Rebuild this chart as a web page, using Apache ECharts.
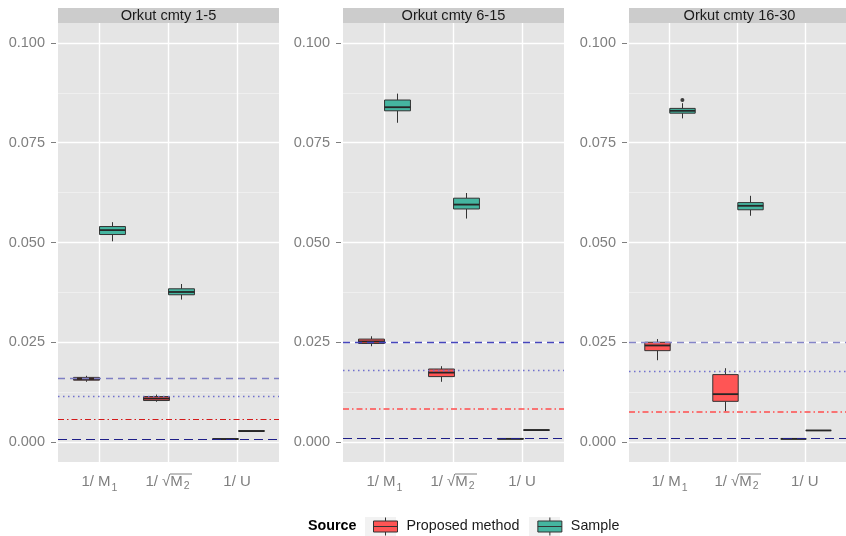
<!DOCTYPE html>
<html><head><meta charset="utf-8">
<script src="https://cdn.jsdelivr.net/npm/echarts@6/dist/echarts.min.js"></script>
<style>html,body{margin:0;padding:0;background:#fff}#c{width:846px;height:536px}</style>
</head><body><div id="c"></div>
<script>
// ---------- data ----------
const panels = ['Orkut cmty 1-5', 'Orkut cmty 6-15', 'Orkut cmty 16-30'];
const categories = ['1/ M|1', '1/ \u221A|M|2', '1/ U|'];
const sources = ['Proposed method', 'Sample'];
// [min, q1, median, q3, max] per category
const proposedP1 = [[0.0151,0.0155,0.0158,0.0162,0.0166],[0.0101,0.0104,0.0109,0.0114,0.0119],[0.00072,0.00075,0.00075,0.00078,0.0008]];
const sampleP1   = [[0.0503,0.0520,0.0531,0.0540,0.0551],[0.0357,0.0369,0.0376,0.0384,0.0396],[0.0027,0.00275,0.00275,0.0028,0.0028]];
const proposedP2 = [[0.0240,0.0247,0.0252,0.0258,0.0265],[0.0151,0.0164,0.0174,0.0183,0.0190],[0.0008,0.0008,0.0008,0.00085,0.00085]];
const sampleP2   = [[0.0800,0.0830,0.0839,0.0857,0.0873],[0.0560,0.0584,0.0595,0.0611,0.0624],[0.0030,0.0030,0.0030,0.0030,0.0030]];
const proposedP3 = [[0.0205,0.0229,0.0242,0.0250,0.0258],[0.0077,0.0102,0.0120,0.0169,0.0185],[0.0008,0.0008,0.0008,0.0008,0.0008]];
const sampleP3   = [[0.0811,0.0824,0.0830,0.0836,0.0849],[0.0567,0.0582,0.0592,0.0600,0.0617],[0.0029,0.0029,0.0029,0.0029,0.0029]];
// outliers: [categoryIndex, value]
const sampleOutliersP1 = [];
const sampleOutliersP2 = [];
const sampleOutliersP3 = [[0, 0.0857]];
// horizontal reference lines per panel
const refLineA = [0.0159, 0.0250, 0.0250];   // dashed blue
const refLineB = [0.01135, 0.0179, 0.0177];  // dotted
const refLineC = [0.00576, 0.00834, 0.00767];// dash-dot red
const refLineD = [0.00075, 0.00083, 0.00083];// dashed navy
const yTicks = [0, 0.025, 0.05, 0.075, 0.1];
const yMinorTicks = [0.0125, 0.0375, 0.0625, 0.0875];
const xTicks = [1, 2, 3];

// ---------- layout / style ----------
const proposed = [proposedP1, proposedP2, proposedP3];
const sample = [sampleP1, sampleP2, sampleP3];
const outliers = [sampleOutliersP1, sampleOutliersP2, sampleOutliersP3];
const FONT = "'Liberation Sans', Arial, Helvetica, sans-serif";
const gridLefts = [58, 343, 629];
const gridTop = 23, gridHeight = 439, gridWidth = 221;
const fills = ['#ff5555', '#45b5a0'];
const boxW = 0.375, dodge = [-0.1875, 0.1875];
const refColA = ['#7f7fc4', '#4646bd', '#8585c8'];
const refColC = ['#d41a1a', '#ff4d4d', '#ff4d4d'];
const refWC = [1.2, 1.6, 1.6];

// overline image for the square-root label (stretched over the rich fragment box)
const ovCanvas = document.createElement('canvas');
ovCanvas.width = 4; ovCanvas.height = 40;
(function () { const g = ovCanvas.getContext('2d'); g.fillStyle = '#7f7f7f'; g.fillRect(0, 3, 4, 2); })();

function xLabel(v) {
  const c = categories[Math.round(v) - 1];
  if (!c) return '';
  const p = c.split('|');
  if (p.length === 3) return '{a|' + p[0] + '}{ov|' + p[1] + '}{sov|' + p[2] + '}';
  return '{a|' + p[0] + '}{s|' + p[1] + '}';
}

function makeRender(off) {
  return function (params, api) {
    const x = api.value(0) + off;
    const w = api.size([boxW, 0])[0];
    const pMin = api.coord([x, api.value(1)]);
    const pQ1 = api.coord([x, api.value(2)]);
    const pMed = api.coord([x, api.value(3)]);
    const pQ3 = api.coord([x, api.value(4)]);
    const pMax = api.coord([x, api.value(5)]);
    const cx = Math.round(pMed[0]) + 0.5;
    const stroke = '#333333';
    return { type: 'group', children: [
      { type: 'line', shape: { x1: cx, y1: pQ3[1], x2: cx, y2: pMax[1] }, style: { stroke, lineWidth: 1 } },
      { type: 'line', shape: { x1: cx, y1: pQ1[1], x2: cx, y2: pMin[1] }, style: { stroke, lineWidth: 1 } },
      { type: 'rect', shape: { x: cx - w / 2, y: pQ3[1], width: w, height: pQ1[1] - pQ3[1] }, style: { fill: api.visual('color'), stroke, lineWidth: 1 } },
      { type: 'line', shape: { x1: cx - w / 2, y1: pMed[1], x2: cx + w / 2, y2: pMed[1] }, style: { stroke: '#262626', lineWidth: 1.8 } }
    ] };
  };
}

const richX = {
  a: { color: '#7f7f7f', fontSize: 15, fontFamily: FONT, height: 20, verticalAlign: 'bottom' },
  s: { color: '#7f7f7f', fontSize: 10.5, fontFamily: FONT, verticalAlign: 'bottom', padding: [0, 0, -2, 1] },
  ov: { color: '#7f7f7f', fontSize: 15, fontFamily: FONT, height: 20, verticalAlign: 'bottom', backgroundColor: { image: ovCanvas } },
  sov: { color: '#7f7f7f', fontSize: 10.5, fontFamily: FONT, height: 12, verticalAlign: 'bottom', padding: [8, 2, 0, 1], backgroundColor: { image: ovCanvas } }
};

const grids = [], xAxes = [], yAxes = [], series = [], graphics = [];
for (let i = 0; i < 3; i++) {
  grids.push({ left: gridLefts[i], top: gridTop, width: gridWidth, height: gridHeight, show: true, backgroundColor: '#e5e5e5', borderWidth: 0 });
  xAxes.push({ type: 'value', gridIndex: i, min: 0.4, max: 3.6,
    axisLine: { show: false }, splitLine: { show: false },
    axisTick: { show: true, customValues: xTicks, length: 5, lineStyle: { color: '#7f7f7f' } },
    axisLabel: { customValues: xTicks, formatter: xLabel, rich: richX, color: '#7f7f7f', fontSize: 15, fontFamily: FONT, margin: 10 } });
  yAxes.push({ type: 'value', gridIndex: i, min: -0.005, max: 0.105, offset: 2,
    axisLine: { show: false }, splitLine: { show: false },
    axisTick: { show: true, customValues: yTicks, length: 5, lineStyle: { color: '#7f7f7f' } },
    axisLabel: { customValues: yTicks, formatter: v => v.toFixed(3), color: '#7f7f7f', fontSize: 14.5, fontFamily: FONT, margin: 11 } });
  // background grid lines
  series.push({ type: 'line', xAxisIndex: i, yAxisIndex: i, data: [], silent: true,
    markLine: { silent: true, symbol: 'none', z: 1, precision: 6, animation: false, label: { show: false }, emphasis: { disabled: true },
      data: [
        ...yTicks.map(v => ({ yAxis: v, lineStyle: { color: '#ffffff', width: 1.4, type: 'solid' } })),
        ...yMinorTicks.map(v => ({ yAxis: v, lineStyle: { color: '#f4f4f4', width: 0.7, type: 'solid' } })),
        ...xTicks.map(v => ({ xAxis: v, lineStyle: { color: '#ffffff', width: 1.4, type: 'solid' } }))
      ] } });
  // boxplots
  [proposed[i], sample[i]].forEach((stats, s) => {
    series.push({ type: 'custom', name: sources[s], xAxisIndex: i, yAxisIndex: i, z: 3,
      itemStyle: { color: fills[s] }, renderItem: makeRender(dodge[s]),
      data: stats.map((st, k) => [xTicks[k], ...st]) });
  });
  if (outliers[i].length) {
    series.push({ type: 'scatter', xAxisIndex: i, yAxisIndex: i, z: 4, symbolSize: 4,
      itemStyle: { color: '#111' }, data: outliers[i].map(o => [xTicks[o[0]] + dodge[1], o[1]]) });
  }
  // reference lines
  series.push({ type: 'line', xAxisIndex: i, yAxisIndex: i, data: [], silent: true,
    markLine: { silent: true, symbol: 'none', z: 10, precision: 6, animation: false, label: { show: false }, emphasis: { disabled: true },
      data: [
        { yAxis: refLineA[i], lineStyle: { color: refColA[i], width: 1.3, type: [7, 5] } },
        { yAxis: refLineB[i], lineStyle: { color: '#7070cc', width: 1.4, type: [1.5, 3.5] } },
        { yAxis: refLineC[i], lineStyle: { color: refColC[i], width: refWC[i], type: [6, 3, 1.5, 3] } },
        { yAxis: refLineD[i], lineStyle: { color: '#1e1e88', width: 1.2, type: [9, 5] } }
      ] } });
  // strip
  graphics.push({ type: 'rect', left: gridLefts[i], top: 8, shape: { width: gridWidth, height: 15 }, style: { fill: '#cccccc' } });
  graphics.push({ type: 'text', x: gridLefts[i] + gridWidth / 2, y: 15.5,
    style: { text: panels[i], fill: '#1a1a1a', font: '14.6px ' + FONT, textAlign: 'center', textVerticalAlign: 'middle' } });
}
// legend decorations
graphics.push({ type: 'rect', left: 365, top: 517, shape: { width: 31, height: 19 }, style: { fill: '#f2f2f2' }, z: 0 });
graphics.push({ type: 'rect', left: 529, top: 517, shape: { width: 31, height: 19 }, style: { fill: '#f2f2f2' }, z: 0 });
graphics.push({ type: 'text', x: 308, y: 526, style: { text: 'Source', fill: '#000', font: 'bold 14.3px ' + FONT, textVerticalAlign: 'middle' } });

const chart = echarts.init(document.getElementById('c'));
chart.setOption({
  animation: false,
  backgroundColor: '#ffffff',
  grid: grids, xAxis: xAxes, yAxis: yAxes, series: series, graphic: graphics,
  legend: { data: sources, left: 368, top: 512, padding: 5, itemWidth: 24, itemHeight: 18, itemGap: 18, selectedMode: false,
    icon: 'path://M0,3.5H24V14.5H0Z M0,9H24 M12,0V3.5 M12,14.5V18',
    itemStyle: { borderColor: '#333', borderWidth: 1 },
    textStyle: { fontSize: 14.3, color: '#1a1a1a', fontFamily: FONT, padding: [0, 0, 0, 4] } }
});
</script></body></html>
